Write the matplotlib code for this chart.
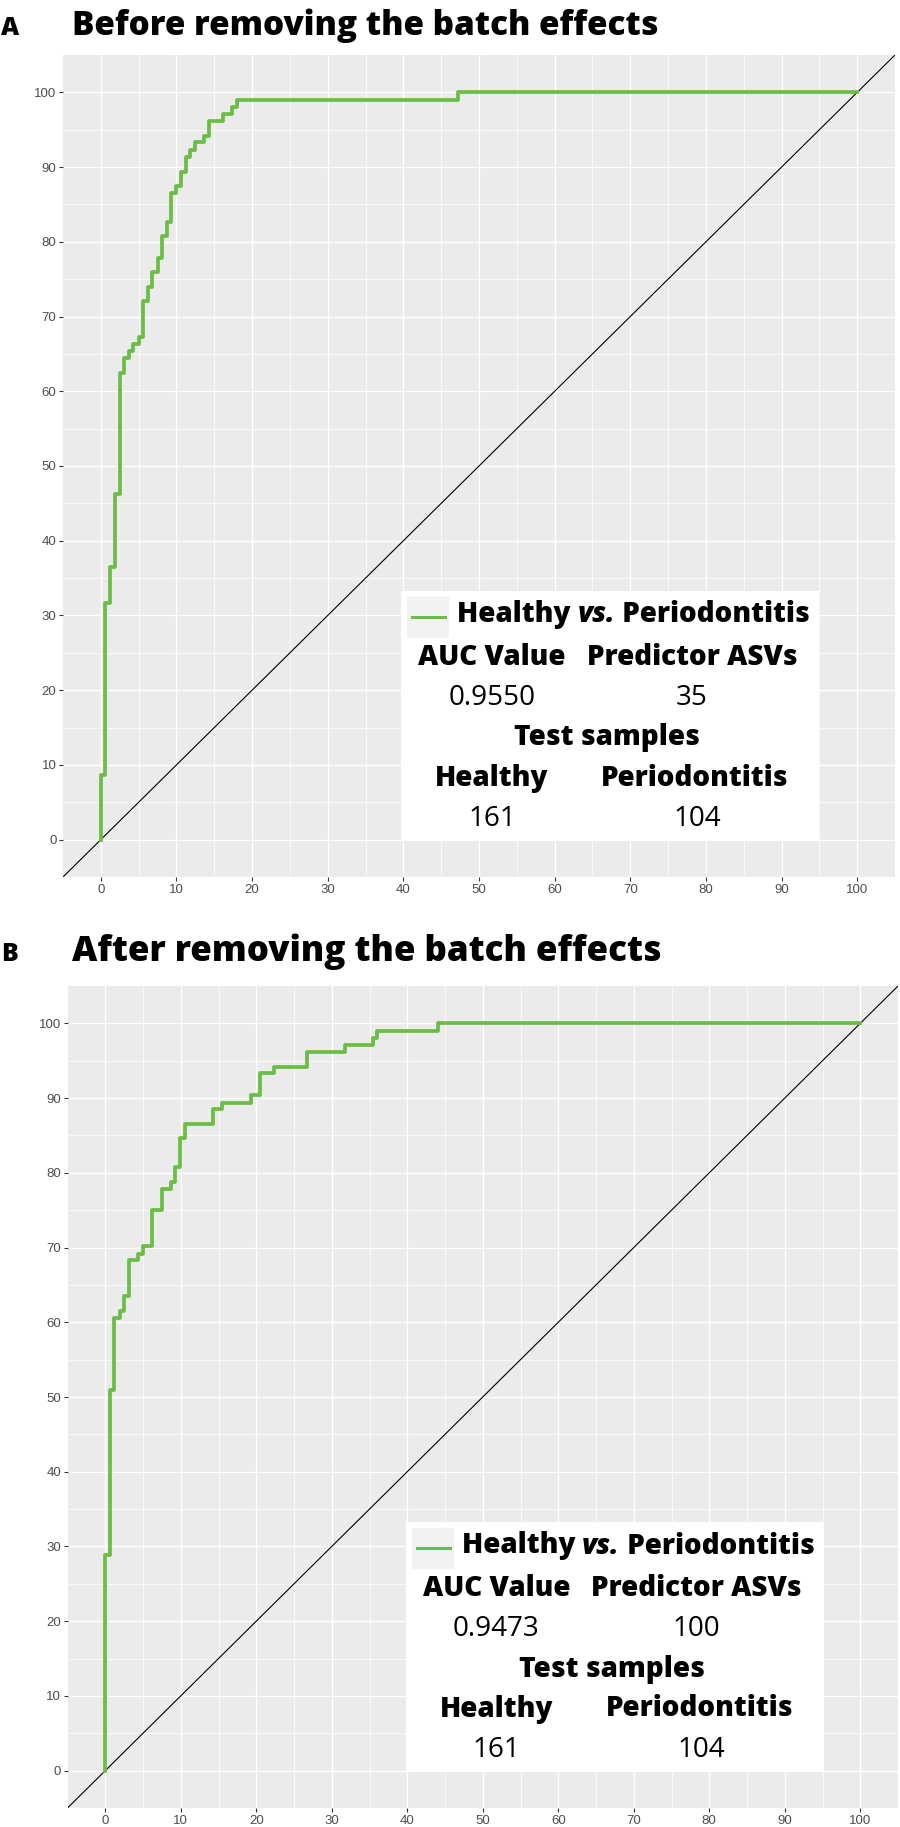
import numpy as np
import matplotlib
matplotlib.use("Agg")
import matplotlib.pyplot as plt
from matplotlib.patches import Rectangle
from matplotlib.lines import Line2D
from matplotlib.text import Annotation

# ROC step points (false positive rate %, true positive rate %)
fpr_before = [0, 0, 0.6, 1.2, 1.9, 2.5, 3.1, 3.7, 4.3, 5.0, 5.6, 6.2, 6.8, 7.5, 8.1,
              8.7, 9.3, 9.9, 10.6, 11.2, 11.8, 12.4, 13.7, 14.3, 16.1, 17.4, 18.0, 47.2, 100]
tpr_before = [0, 8.7, 31.7, 36.5, 46.2, 62.5, 64.4, 65.4, 66.3, 67.3, 72.1, 74.0, 76.0, 77.9, 80.8,
              82.7, 86.5, 87.5, 89.4, 91.3, 92.3, 93.3, 94.2, 96.2, 97.1, 98.1, 99.0, 100, 100]

fpr_after = [0, 0, 0.6, 1.2, 1.9, 2.5, 3.1, 4.3, 5.0, 6.2, 7.5, 8.7, 9.3, 9.9, 10.6,
             14.3, 15.5, 19.3, 20.5, 22.4, 26.7, 31.7, 35.4, 36.0, 44.1, 100]
tpr_after = [0, 28.8, 51.0, 60.6, 61.5, 63.5, 68.3, 69.2, 70.2, 75.0, 77.9, 78.8, 80.8, 84.6, 86.5,
             88.5, 89.4, 90.4, 93.3, 94.2, 96.2, 97.1, 98.1, 99.0, 100, 100]

titles = ["Before removing the batch effects", "After removing the batch effects"]
letters = ["A", "B"]
auc_values = ["0.9550", "0.9473"]
predictor_asvs = ["35", "100"]
n_healthy = ["161", "161"]
n_perio = ["104", "104"]
ticks = [0, 10, 20, 30, 40, 50, 60, 70, 80, 90, 100]

W, H = 900, 1827
GREEN = "#6BBE45"
TFONT = "Open Sans"
HEAVY = 800

fig = plt.figure(figsize=(W / 100, H / 100), dpi=100)
renderer = fig.canvas.get_renderer()


def fx(p):
    return p / W


def fy(p):
    return 1 - p / H


def fit(txt, target):
    # scale the font so the text is as wide as in the reference
    w = txt.get_window_extent(renderer).width
    txt.set_fontsize(txt.get_fontsize() * target / w)
    return txt.get_fontsize()


# legend font size from "Predictor ASVs" width
probe = fig.text(0, 0, "Predictor ASVs", fontsize=20, fontweight=HEAVY, family=TFONT)
LEG = fit(probe, 210)
probe.remove()

# panel boxes in pixels: left, top, right, bottom
panels = [(63, 55, 895, 877), (67.5, 986, 898, 1808)]
title_base = [35, 961]
title_w = [584, 588]
series = [(fpr_before, tpr_before), (fpr_after, tpr_after)]

for i, (l, t, r, b) in enumerate(panels):
    ax = fig.add_axes([fx(l), fy(b), (r - l) / W, (b - t) / H])
    ax.set_facecolor("#EBEBEB")
    ax.set_xlim(-5, 105)
    ax.set_ylim(-5, 105)
    ax.set_xticks(ticks)
    ax.set_yticks(ticks)
    ax.set_xticks(np.arange(5, 100, 10), minor=True)
    ax.set_yticks(np.arange(5, 100, 10), minor=True)
    ax.grid(which="major", color="white", lw=1.0)
    ax.grid(which="minor", color="white", lw=0.5)
    ax.set_axisbelow(True)
    for s in ax.spines.values():
        s.set_visible(False)
    ax.tick_params(which="major", length=2.7, width=0.8, color="#333333",
                   labelsize=9.5, labelcolor="#4D4D4D", pad=2)
    ax.tick_params(which="minor", length=0)
    for lab in ax.get_xticklabels() + ax.get_yticklabels():
        lab.set_fontfamily("Liberation Sans")

    fpr, tpr = series[i]
    ax.axline((0, 0), slope=1, color="black", lw=0.8)
    ax.plot(fpr, tpr, drawstyle="steps-post", color=GREEN, lw=2.7)

    # letter + title
    fig.text(fx(1), fy(title_base[i]), letters[i], fontsize=18, fontweight=HEAVY,
             family=TFONT, va="baseline", ha="left")
    tt = fig.text(fx(72), fy(title_base[i]), titles[i], fontsize=22, fontweight=HEAVY,
                  family=TFONT, va="baseline", ha="left")
    fit(tt, title_w[i])

    # legend box
    fig.patches.append(Rectangle((fx(l + 338), fy(t + 786)), 418 / W, 250 / H,
                                 transform=fig.transFigure, facecolor="white",
                                 edgecolor="none", zorder=5))
    fig.patches.append(Rectangle((fx(l + 344), fy(t + 583)), 42 / W, 41 / H,
                                 transform=fig.transFigure, facecolor="#F2F2F2",
                                 edgecolor="none", zorder=6))
    fig.lines.append(Line2D([fx(l + 349), fx(l + 382)], [fy(t + 562), fy(t + 562)],
                            transform=fig.transFigure, color=GREEN, lw=2.2, zorder=7))

    rows = [560, 603, 643, 683, 723, 764]
    bold = dict(fontsize=LEG, fontweight=HEAVY, family=TFONT, zorder=8, va="center")
    reg = dict(fontsize=LEG, family=TFONT, zorder=8, va="center", ha="center")
    t1 = fig.text(fx(l + 394), fy(t + rows[0]), "Healthy ", ha="left", **bold)
    a2 = fig.add_artist(Annotation("vs.", xy=(1, 0), xycoords=t1, va="bottom", ha="left",
                                   style="italic", fontsize=LEG, fontweight=HEAVY,
                                   family=TFONT, zorder=8))
    fig.add_artist(Annotation(" Periodontitis", xy=(1, 0), xycoords=a2, va="bottom",
                              ha="left", fontsize=LEG, fontweight=HEAVY,
                              family=TFONT, zorder=8))

    fig.text(fx(l + 429), fy(t + rows[1]), "AUC Value", ha="center", **bold)
    fig.text(fx(l + 629), fy(t + rows[1]), "Predictor ASVs", ha="center", **bold)
    fig.text(fx(l + 429), fy(t + rows[2]), auc_values[i], **reg)
    fig.text(fx(l + 629), fy(t + rows[2]), predictor_asvs[i], **reg)
    fig.text(fx(l + 544), fy(t + rows[3]), "Test samples", ha="center", **bold)
    fig.text(fx(l + 429), fy(t + rows[4]), "Healthy", ha="center", **bold)
    fig.text(fx(l + 632), fy(t + rows[4]), "Periodontitis", ha="center", **bold)
    fig.text(fx(l + 429), fy(t + rows[5]), n_healthy[i], **reg)
    fig.text(fx(l + 634), fy(t + rows[5]), n_perio[i], **reg)

fig.savefig("out.png", dpi=100)
